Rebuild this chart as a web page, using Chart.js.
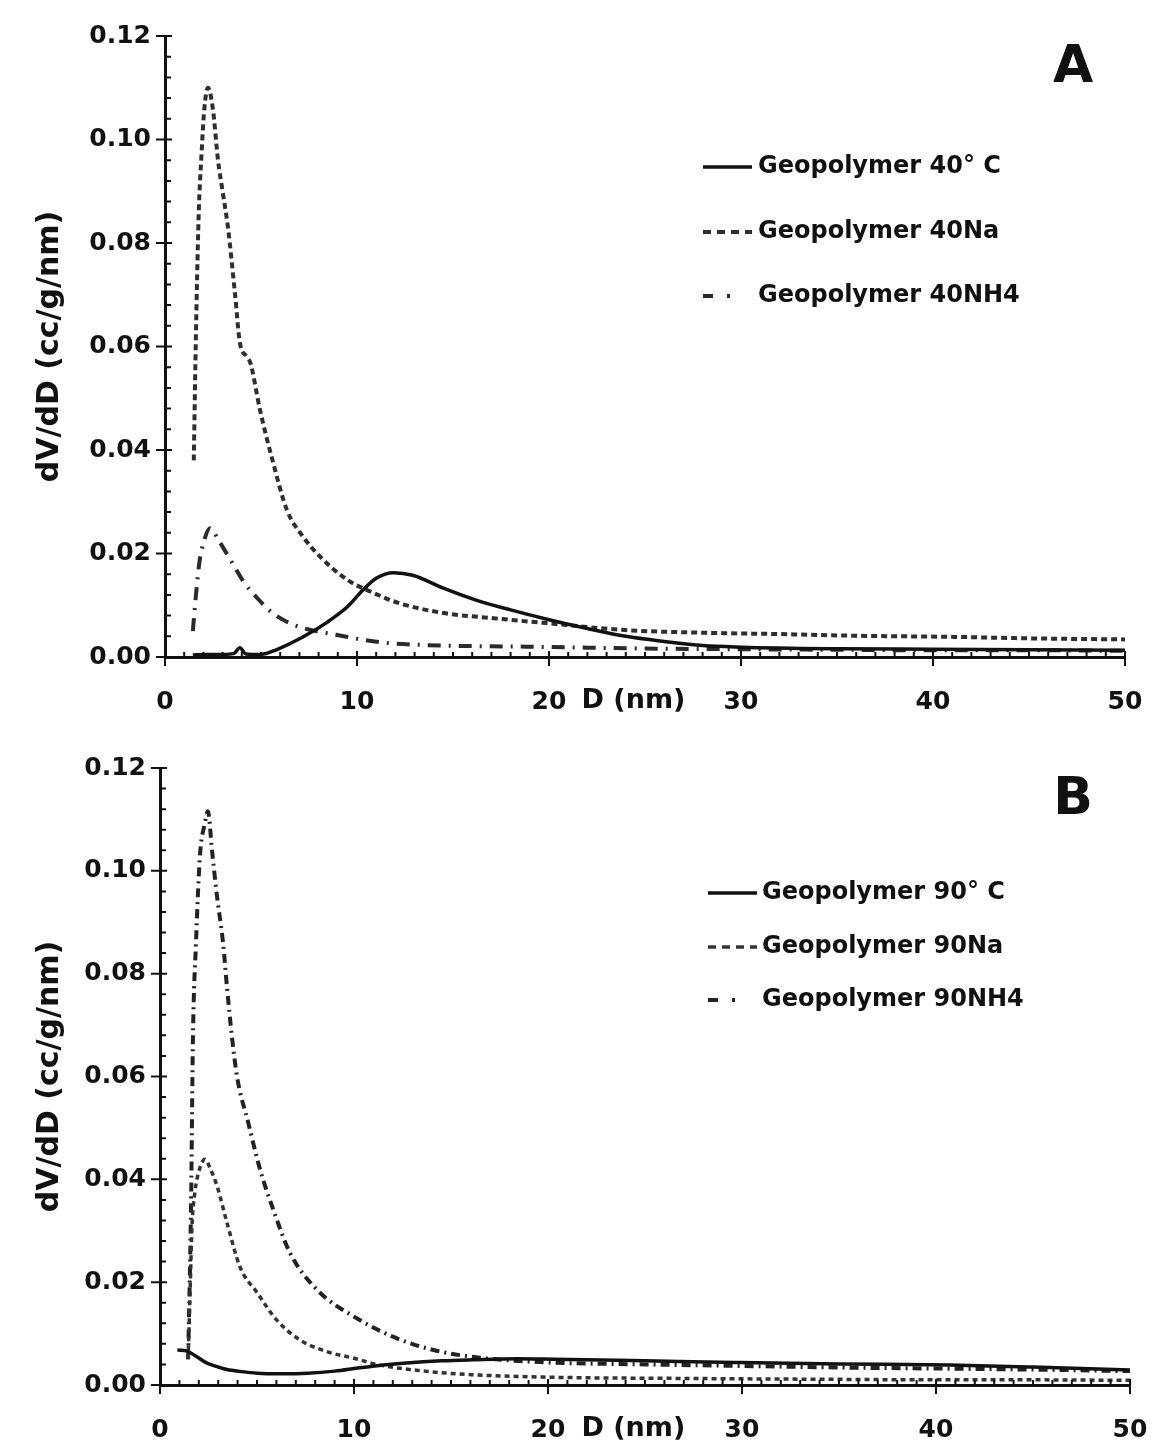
<!DOCTYPE html>
<html>
<head>
<meta charset="utf-8">
<script src="https://cdn.jsdelivr.net/npm/chart.js@4.4.0/dist/chart.umd.min.js"></script>
<style>
  html, body { margin: 0; padding: 0; background: #ffffff; }
  #wrap { position: relative; width: 1155px; height: 1451px; overflow: hidden; }
  .panel { position: absolute; left: 0; width: 1155px; }
  canvas { display: block; }
</style>
</head>
<body>
<div id="wrap">
  <div class="panel" style="top:0;height:725px"><canvas id="chartA" width="1155" height="725"></canvas></div>
  <div class="panel" style="top:725px;height:726px"><canvas id="chartB" width="1155" height="726"></canvas></div>
</div>
<script>
// ---- Pore size distributions: D (nm) vs dV/dD (cc/g/nm) ----

// Panel A: cured at 40 °C
const d40C  = [1.45, 2.0, 3.0, 3.6, 3.9, 4.2, 5.0, 5.8, 7.2, 8.4, 9.5, 10.3, 11.0, 11.9, 12.9, 14.5, 16.2, 18.0, 20.0, 22.0, 24.0, 26.0, 28.0, 30.0, 35.0, 40.0, 45.0, 50.0];
const v40C  = [0.0004, 0.0005, 0.0005, 0.0007, 0.0018, 0.0006, 0.0005, 0.0014, 0.0039, 0.0066, 0.0097, 0.0129, 0.0152, 0.0163, 0.0158, 0.0133, 0.0110, 0.0091, 0.0072, 0.0055, 0.0040, 0.0030, 0.0022, 0.0019, 0.0016, 0.0015, 0.0014, 0.0013];

const d40Na = [1.5, 1.6, 1.75, 1.9, 2.05, 2.24, 2.5, 2.76, 3.0, 3.28, 3.65, 3.9, 4.27, 4.45, 4.95, 5.6, 6.35, 7.2, 8.1, 9.5, 10.85, 12.2, 14.5, 17.1, 19.7, 24.0, 28.0, 32.4, 36.0, 40.9, 45.0, 50.0];
const v40Na = [0.038, 0.060, 0.085, 0.097, 0.106, 0.110, 0.1057, 0.096, 0.090, 0.083, 0.070, 0.0607, 0.058, 0.0568, 0.0477, 0.038, 0.0284, 0.0232, 0.0193, 0.0149, 0.0124, 0.0104, 0.0085, 0.0075, 0.0066, 0.0052, 0.0047, 0.0044, 0.0041, 0.0039, 0.0036, 0.0034];

const d40NH4 = [1.45, 1.6, 1.8, 2.0, 2.34, 2.8, 3.5, 4.1, 4.8, 5.6, 6.7, 8.0, 8.9, 10.2, 11.6, 13.6, 16.2, 18.8, 22.0, 26.0, 30.0, 35.0, 40.0, 45.0, 50.0];
const v40NH4 = [0.005, 0.0115, 0.0185, 0.022, 0.0249, 0.0225, 0.0182, 0.0145, 0.0114, 0.0085, 0.0062, 0.0049, 0.0043, 0.0034, 0.0027, 0.0023, 0.0021, 0.0020, 0.0018, 0.0016, 0.0015, 0.0014, 0.0013, 0.0013, 0.0012];

// Panel B: cured at 90 °C
const d90C  = [0.9, 1.4, 1.9, 2.4, 3.0, 3.45, 4.2, 5.0, 6.3, 7.6, 9.0, 10.2, 11.5, 12.7, 14.5, 16.1, 18.4, 20.3, 25.0, 29.6, 35.0, 40.7, 45.0, 50.0];
const v90C  = [0.0068, 0.0066, 0.0055, 0.0043, 0.0035, 0.0030, 0.0026, 0.0023, 0.0022, 0.0023, 0.0027, 0.0033, 0.0039, 0.0043, 0.0047, 0.0049, 0.0051, 0.0050, 0.0047, 0.0044, 0.0041, 0.0039, 0.0035, 0.0029];

const d90Na = [1.45, 1.55, 1.65, 1.8, 2.0, 2.32, 2.6, 2.94, 3.45, 4.12, 5.0, 6.0, 7.2, 8.6, 10.0, 11.3, 13.9, 16.1, 19.0, 22.0, 26.0, 30.0, 35.0, 40.0, 45.0, 50.0];
const v90Na = [0.005, 0.018, 0.031, 0.0375, 0.0415, 0.0439, 0.0420, 0.0387, 0.0316, 0.023, 0.018, 0.0127, 0.0088, 0.0065, 0.0052, 0.0039, 0.0026, 0.0020, 0.0016, 0.0014, 0.0013, 0.0012, 0.0011, 0.0010, 0.0010, 0.0009];

const d90NH4 = [1.45, 1.6, 1.7, 1.85, 2.06, 2.3, 2.47, 2.68, 2.94, 3.25, 3.45, 3.7, 3.97, 4.55, 5.15, 5.85, 6.7, 8.1, 10.0, 12.0, 14.1, 16.5, 20.0, 25.0, 30.0, 35.0, 40.0, 45.0, 50.0];
const v90NH4 = [0.005, 0.035, 0.068, 0.0855, 0.103, 0.109, 0.1116, 0.104, 0.095, 0.086, 0.0775, 0.068, 0.060, 0.051, 0.042, 0.034, 0.0257, 0.0185, 0.0133, 0.0094, 0.0068, 0.0053, 0.0044, 0.0040, 0.0037, 0.0034, 0.0032, 0.0030, 0.0027];

// Axis ticks
const xTickValues = [0, 10, 20, 30, 40, 50];
const yTickValues = [0, 0.02, 0.04, 0.06, 0.08, 0.10, 0.12];

// Legend labels
const labelsA = ['Geopolymer 40° C', 'Geopolymer 40Na', 'Geopolymer 40NH4'];
const labelsB = ['Geopolymer 90° C', 'Geopolymer 90Na', 'Geopolymer 90NH4'];

const FONT = "'DejaVu Sans', 'Liberation Sans', sans-serif";
const INK = '#111111';

// Minor/major tick marks along both axes
const axisTicks = {
  id: 'axisTicks',
  afterDraw(chart) {
    const { ctx, chartArea, scales: { x, y } } = chart;
    ctx.save();
    ctx.strokeStyle = INK;
    ctx.lineWidth = 2;
    ctx.beginPath();
    for (let i = 0; i <= 50; i++) {
      const px = x.getPixelForValue(i);
      const major = i % 10 === 0;
      ctx.moveTo(px, chartArea.bottom - (major ? 6 : 5));
      ctx.lineTo(px, chartArea.bottom + (major ? 9 : 0));
    }
    for (let i = 0; i <= 30; i++) {
      const py = y.getPixelForValue(i * 0.004);
      const major = i % 5 === 0;
      ctx.moveTo(chartArea.left - (major ? 9 : 0), py);
      ctx.lineTo(chartArea.left + (major ? 7 : 6), py);
    }
    ctx.stroke();
    ctx.restore();
  }
};

// In-plot legend, panel letter and x-axis caption
const decor = {
  id: 'decor',
  afterDraw(chart, args, o) {
    const { ctx, chartArea, scales: { x } } = chart;
    ctx.save();
    chart.data.datasets.forEach((ds, i) => {
      const yRow = o.rows[i];
      ctx.beginPath();
      ctx.setLineDash(o.legendDash[i]);
      ctx.lineWidth = ds.borderWidth;
      ctx.strokeStyle = ds.borderColor;
      ctx.moveTo(o.lineX[0], yRow);
      ctx.lineTo(o.lineX[1], yRow);
      ctx.stroke();
      ctx.setLineDash([]);
      ctx.fillStyle = INK;
      ctx.font = 'bold 24px ' + FONT;
      ctx.textAlign = 'left';
      ctx.textBaseline = 'middle';
      ctx.fillText(ds.label, o.textX, yRow);
    });
    ctx.font = 'bold 52px ' + FONT;
    ctx.textAlign = 'center';
    ctx.textBaseline = 'middle';
    ctx.fillText(o.letter, o.letterPos[0], o.letterPos[1]);
    // x-axis caption sits between the 20 and 30 tick labels
    ctx.font = 'bold 27px ' + FONT;
    ctx.fillText('D (nm)', x.getPixelForValue(24.4), chartArea.bottom + o.captionDy);
    ctx.restore();
  }
};

function makePanel(id, cfg) {
  const datasets = cfg.series.map(s => ({
    label: s.label,
    data: s.d.map((xv, i) => ({ x: xv, y: s.v[i] })),
    borderColor: s.color,
    borderWidth: s.width,
    borderDash: s.dash,
    borderCapStyle: 'butt',
    pointRadius: 0,
    fill: false,
    cubicInterpolationMode: 'monotone'
  }));
  return new Chart(document.getElementById(id), {
    type: 'line',
    data: { datasets },
    options: {
      responsive: false,
      animation: false,
      events: [],
      layout: { padding: { top: cfg.padTop, right: cfg.padRight, bottom: 0, left: 0 } },
      plugins: {
        legend: { display: false },
        tooltip: { enabled: false },
        decor: cfg.decor
      },
      scales: {
        x: {
          type: 'linear', min: 0, max: 50,
          afterBuildTicks: s => { s.ticks = xTickValues.map(v => ({ value: v })); },
          afterFit: s => { s.height = cfg.xAxisHeight; },
          // invisible tick marks keep the labels clear of the axis
          grid: { display: true, drawOnChartArea: false, drawTicks: true, tickLength: 30, color: 'rgba(0,0,0,0)' },
          border: { display: true, color: INK, width: 3 },
          ticks: {
            padding: 0, color: INK, maxRotation: 0, autoSkip: false,
            font: { family: FONT, size: 25, weight: 'bold' },
            callback: v => String(v)
          }
        },
        y: {
          type: 'linear', min: 0, max: 0.12,
          afterBuildTicks: s => { s.ticks = yTickValues.map(v => ({ value: v })); },
          afterFit: s => { s.width = cfg.yAxisWidth; },
          grid: { display: false, drawTicks: false },
          border: { display: true, color: INK, width: 3 },
          ticks: {
            padding: 14, color: INK, autoSkip: false,
            font: { family: FONT, size: 25, weight: 'bold' },
            callback: v => v.toFixed(2)
          },
          title: {
            display: true, text: 'dV/dD (cc/g/nm)', color: INK,
            font: { family: FONT, size: 30, weight: 'bold' },
            padding: { top: 32, bottom: 0 }
          }
        }
      }
    },
    plugins: [axisTicks, decor]
  });
}

makePanel('chartA', {
  padTop: 36, padRight: 30, xAxisHeight: 68, yAxisWidth: 165,
  series: [
    { label: labelsA[0], d: d40C,   v: v40C,   color: '#111111', width: 3.5, dash: [] },
    { label: labelsA[1], d: d40Na,  v: v40Na,  color: '#2e2e2e', width: 4,   dash: [6, 4] },
    { label: labelsA[2], d: d40NH4, v: v40NH4, color: '#2a2a2a', width: 4,   dash: [13, 8, 2, 8] }
  ],
  decor: {
    rows: [167, 232, 296], lineX: [703, 752], textX: 758,
    legendDash: [[], [8, 6], [10, 14, 3, 40]],
    letter: 'A', letterPos: [1073, 68], captionDy: 44
  }
});

makePanel('chartB', {
  padTop: 43, padRight: 25, xAxisHeight: 66, yAxisWidth: 160,
  series: [
    { label: labelsB[0], d: d90C,   v: v90C,   color: '#111111', width: 3.5, dash: [] },
    { label: labelsB[1], d: d90Na,  v: v90Na,  color: '#333333', width: 3.5, dash: [5, 4] },
    { label: labelsB[2], d: d90NH4, v: v90NH4, color: '#222222', width: 4,   dash: [9, 5, 2, 5] }
  ],
  decor: {
    rows: [168, 222, 275], lineX: [708, 757], textX: 762,
    legendDash: [[], [8, 6], [10, 14, 3, 40]],
    letter: 'B', letterPos: [1073, 75], captionDy: 44
  }
});
</script>
</body>
</html>
